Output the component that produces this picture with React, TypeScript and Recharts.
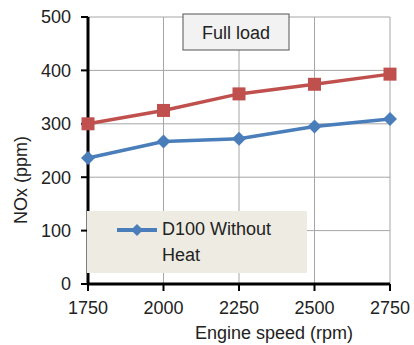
import { LineChart, Line, XAxis, YAxis, CartesianGrid, Customized } from 'recharts';

const speeds = [1750, 2000, 2250, 2500, 2750];
const withoutHeat = [236, 267, 272, 295, 309];
const withHeat = [300, 325, 356, 374, 393];
const yTicks = [0, 100, 200, 300, 400, 500];

const data = speeds.map((s, i) => ({ speed: s, d100: withoutHeat[i], heat: withHeat[i] }));

const FONT = '"Liberation Sans", Arial, sans-serif';

const Diamond = (props: any) => {
    const { cx, cy } = props;
    if (cx == null || cy == null) return null;
    const r = 7;
    return <path d={`M${cx},${cy - r}L${cx + r},${cy}L${cx},${cy + r}L${cx - r},${cy}Z`} fill="#4A7EBB" />;
};

const Square = (props: any) => {
    const { cx, cy } = props;
    if (cx == null || cy == null) return null;
    return <rect x={cx - 6.5} y={cy - 6.5} width={13} height={13} fill="#C0504D" />;
};

const TitleBox = () => (
    <g>
        <rect x={183} y={14} width={106} height={36} fill="#F2F2F2" stroke="#555" strokeWidth={1} />
        <text x={236} y={39} textAnchor="middle" fontFamily={FONT} fontSize={18} fill="#222">Full load</text>
    </g>
);

const XLabel = (props: any) => {
    const { viewBox } = props;
    return (
        <text x={274} y={viewBox.y + 55} textAnchor="middle" fontFamily={FONT} fontSize={18} fill="#222">
            Engine speed (rpm)
        </text>
    );
};

const YLabel = () => (
    <text x={27} y={180} transform="rotate(-90 27 180)" textAnchor="middle" fontFamily={FONT} fontSize={18} fill="#222">
        NOx  (ppm)
    </text>
);

export default function App() {
    return (
        <div style={{ position: 'absolute', left: 0, top: 0, width: 414, height: 345, background: '#fff' }}>
            <LineChart width={414} height={345} data={data} margin={{ top: 17, right: 24, bottom: 0, left: 0 }}>
                <CartesianGrid stroke="#A6A6A6" strokeWidth={1} horizontalValues={yTicks} verticalValues={speeds} />
                <XAxis
                    dataKey="speed"
                    type="number"
                    domain={[1750, 2750]}
                    ticks={speeds}
                    height={61}
                    axisLine={{ stroke: '#000', strokeWidth: 3 }}
                    tickLine={{ stroke: '#000', strokeWidth: 2 }}
                    tickSize={7}
                    tick={{ fill: '#222', fontSize: 18, fontFamily: FONT }}
                    tickMargin={10}
                    label={<XLabel />}
                />
                <YAxis
                    type="number"
                    domain={[0, 500]}
                    ticks={yTicks}
                    width={88}
                    axisLine={{ stroke: '#000', strokeWidth: 3 }}
                    tickLine={{ stroke: '#000', strokeWidth: 2 }}
                    tickSize={7}
                    tick={{ fill: '#222', fontSize: 18, fontFamily: FONT }}
                    tickMargin={10}
                    label={<YLabel />}
                />
                <Line dataKey="heat" stroke="#C0504D" strokeWidth={3.5} dot={<Square />} isAnimationActive={false} legendType="none" />
                <Line dataKey="d100" name="D100 Without Heat" stroke="#4A7EBB" strokeWidth={3.5} dot={<Diamond />} isAnimationActive={false} />
                <Customized component={TitleBox} />
            </LineChart>
            <div style={{ position: 'absolute', left: 87, top: 211, width: 220, height: 62, background: '#EEECE2', fontFamily: FONT, fontSize: 18, color: '#222' }}>
                <svg width={44} height={14} style={{ position: 'absolute', left: 29, top: 12 }}>
                    <line x1={1} y1={7} x2={41} y2={7} stroke="#4A7EBB" strokeWidth={4} />
                    <path d="M21,1L27,7L21,13L15,7Z" fill="#4A7EBB" />
                </svg>
                <div style={{ position: 'absolute', left: 75, top: 5, lineHeight: '26px', whiteSpace: 'nowrap' }}>
                    D100 Without<br />Heat
                </div>
            </div>
        </div>
    );
}
